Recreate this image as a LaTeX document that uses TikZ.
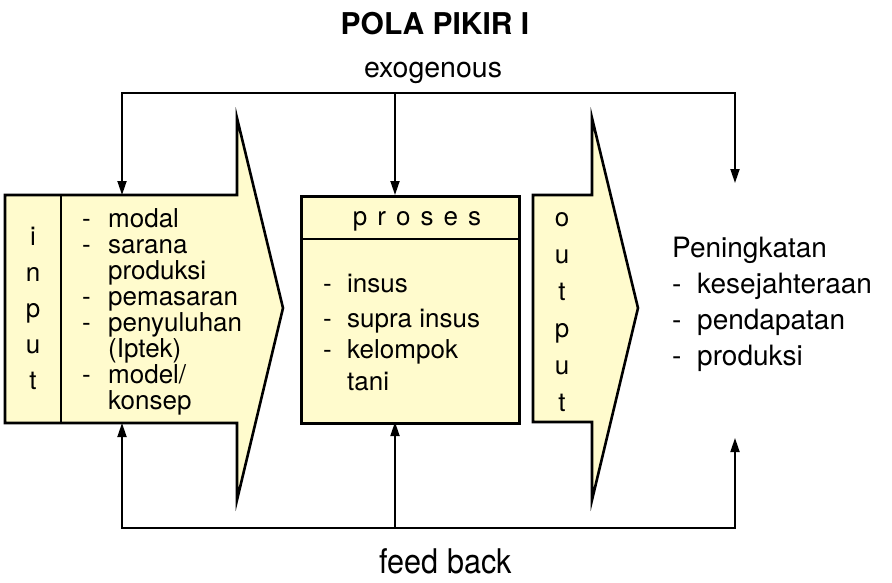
\documentclass[tikz,border=0pt]{standalone}
\usepackage{fontspec}
\setmainfont{TeX Gyre Heros}
\newfontfamily\fbfont[FakeStretch=0.9]{TeX Gyre Heros}
\usetikzlibrary{arrows.meta}
\definecolor{pale}{RGB}{255,251,205}
\begin{document}
\begin{tikzpicture}[x=1pt,y=-1pt,
  outl/.style={draw=black, line width=2.6pt, fill=pale, line join=miter},
  sepline/.style={draw=black, line width=2.6pt},
  conn/.style={draw=black, line width=1.8pt},
  arr/.style={conn, -{Triangle[length=14pt,width=9pt]}},
  txt/.style={font=\fontsize{26}{26}\selectfont, inner sep=0pt, anchor=base west},
  letter/.style={font=\fontsize{26}{26}\selectfont, inner sep=0pt, anchor=base},
  rtxt/.style={font=\fontsize{28}{28}\selectfont, inner sep=0pt, anchor=base west}]
\useasboundingbox (0,0) rectangle (892,582);
\fill[white] (0,0) rectangle (892,582);

% titles
\node[font=\bfseries\fontsize{30}{30}\selectfont, inner sep=0pt, anchor=base] (title) at (435,34) {POLA PIKIR I};
\node[font=\fontsize{28.5}{28}\selectfont, inner sep=0pt, anchor=base] (exo) at (433,77) {exogenous};
\node[font=\fbfont\fontsize{34}{34}\selectfont, inner sep=0pt, anchor=base] (fb) at (446,573) {feed back};

% input arrow
\draw[outl] (5,195) -- (237,195) -- (237,118) -- (283,308) -- (237,500) -- (237,423) -- (5,423) -- cycle;
\draw[sepline] (61,195) -- (61,423);
% proses box
\node[outl, minimum width=218pt, minimum height=227pt, anchor=north west, inner sep=0pt] (proses) at (300,195) {};
\draw[sepline] (proses.west |- 0,239) -- (proses.east |- 0,239);
% output arrow
\draw[outl] (533,195) -- (592,195) -- (592,118) -- (638,308) -- (592,500) -- (592,422) -- (533,422) -- cycle;

% connection points
\coordinate (ex2) at (395,93);
\coordinate (inT) at (122,195);
\coordinate (prT) at (395,195);
\coordinate (outT) at (735,183);
\coordinate (fb2) at (395,528);
\coordinate (inB) at (122,423);
\coordinate (prB) at (395,422);
\coordinate (outB) at (735,438);

\draw[arr] (ex2) -| (inT);
\draw[arr] (ex2) -| (outT);
\draw[arr] (ex2) -- (prT);
\draw[arr] (fb2) -| (inB);
\draw[arr] (fb2) -| (outB);
\draw[arr] (fb2) -- (prB);

% input letters
\node[letter] (i1) at (33,245) {i};
\node[letter] (i2) at (33,281) {n};
\node[letter] (i3) at (33,317) {p};
\node[letter] (i4) at (33,353) {u};
\node[letter] (i5) at (33,389) {t};

% input list
\node[txt] (d1) at (82,227) {-};
\node[txt] (l1) at (108,227) {modal};
\node[txt] (d2) at (82,253) {-};
\node[txt] (l2) at (108,253) {sarana};
\node[txt] (l3) at (108,279) {produksi};
\node[txt] (d4) at (82,305) {-};
\node[txt] (l4) at (108,305) {pemasaran};
\node[txt] (d5) at (82,331) {-};
\node[txt] (l5) at (108,331) {penyuluhan};
\node[txt] (l6) at (108,357) {(Iptek)};
\node[txt] (d7) at (82,383) {-};
\node[txt] (l7) at (108,383) {model/};
\node[txt] (l8) at (108,409) {konsep};

% proses text
\node[font={\fontsize{26}{26}\selectfont\spaceskip=10pt\relax}, inner sep=0pt, anchor=base] (ph) at (417,225) {p r o s e s};
\node[txt] (pd1) at (323,292) {-};
\node[txt] (p1) at (347,292) {insus};
\node[txt] (pd2) at (323,327) {-};
\node[txt] (p2) at (347,327) {supra insus};
\node[txt] (pd3) at (323,358) {-};
\node[txt] (p3) at (347,358) {kelompok};
\node[txt] (p4) at (347,390) {tani};

% output letters
\node[letter] (o1) at (562,226) {o};
\node[letter] (o2) at (562,263) {u};
\node[letter] (o3) at (562,300) {t};
\node[letter] (o4) at (562,337) {p};
\node[letter] (o5) at (562,374) {u};
\node[letter] (o6) at (562,411) {t};

% result text
\node[rtxt] (r0) at (672,257) {Peningkatan};
\node[rtxt] (rd1) at (672,293) {-};
\node[rtxt] (r1) at (697,293) {kesejahteraan};
\node[rtxt] (rd2) at (672,329) {-};
\node[rtxt] (r2) at (697,329) {pendapatan};
\node[rtxt] (rd3) at (672,365) {-};
\node[rtxt] (r3) at (697,365) {produksi};
\end{tikzpicture}
\end{document}
